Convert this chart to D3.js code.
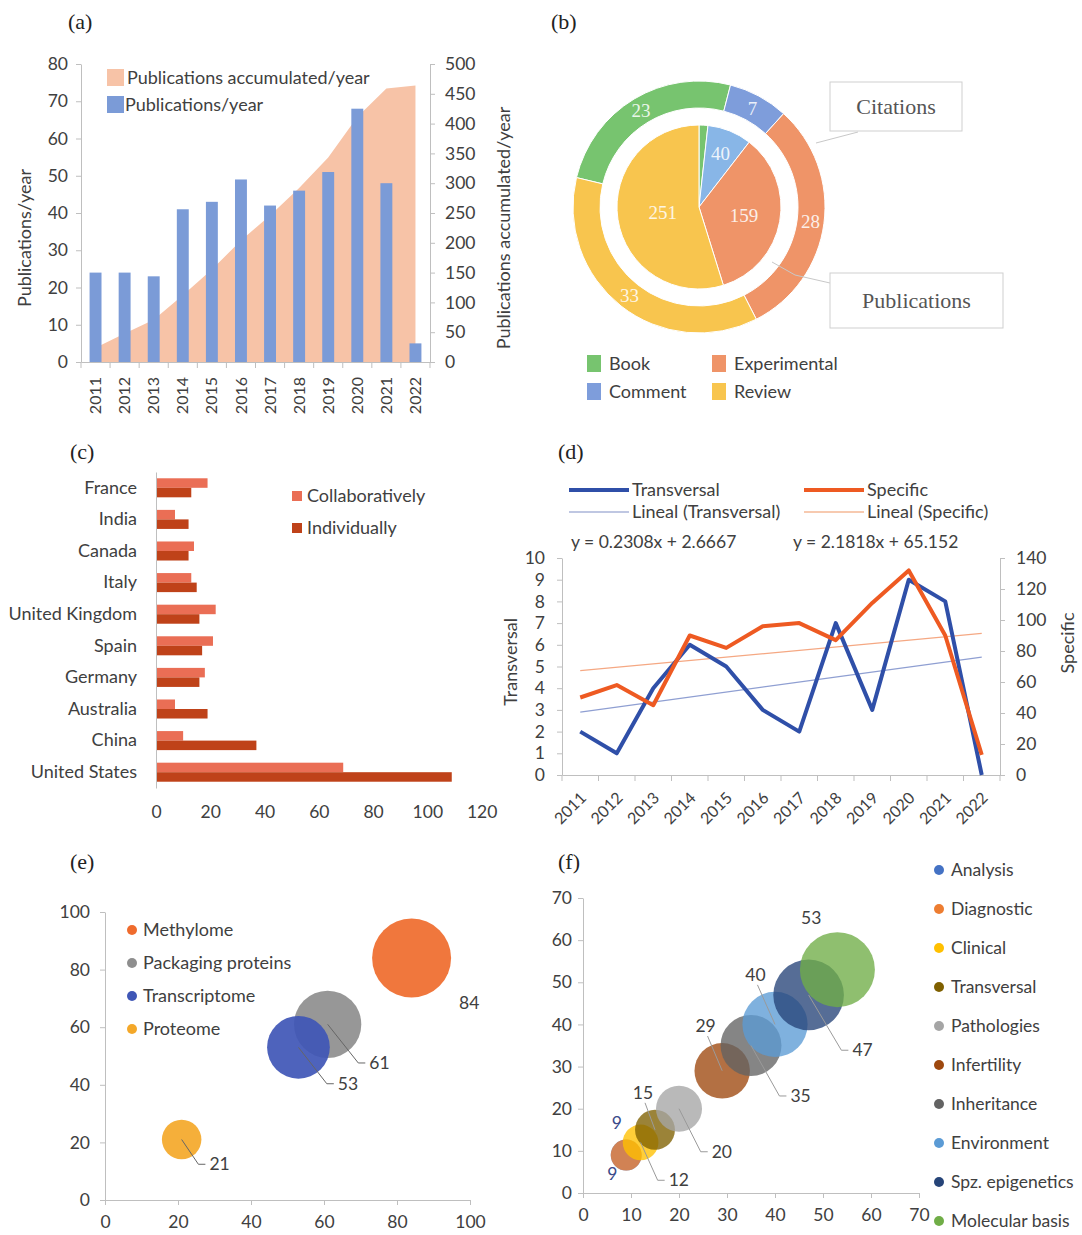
<!DOCTYPE html>
<html>
<head>
<meta charset="utf-8">
<script src="https://cdn.jsdelivr.net/npm/d3@7"></script>
<style>
  body { margin: 0; background: #fff; }
</style>
</head>
<body>
<script>
// ---------- data ----------
// (a) publications per year
const years = ['2011', '2012', '2013', '2014', '2015', '2016', '2017', '2018', '2019', '2020', '2021', '2022'];
const pubsPerYear = [24, 24, 23, 41, 43, 49, 42, 46, 51, 68, 48, 5];
const pubsAccumulated = [24, 48, 71, 112, 155, 204, 246, 292, 343, 411, 459, 464];
const ticksPubs = [0, 10, 20, 30, 40, 50, 60, 70, 80];
const ticksAccum = [0, 50, 100, 150, 200, 250, 300, 350, 400, 450, 500];

// (b) document types
const docTypes = ['Book', 'Comment', 'Experimental', 'Review'];
const publications = [8, 40, 159, 251];
const citations = [23, 7, 28, 33];

// (c) countries
const countries = ['France', 'India', 'Canada', 'Italy', 'United Kingdom', 'Spain', 'Germany', 'Australia', 'China', 'United States'];
const collaboratively = [19, 7, 14, 13, 22, 21, 18, 7, 10, 69];
const individually = [13, 12, 12, 15, 16, 17, 16, 19, 37, 109];
const ticksCountries = [0, 20, 40, 60, 80, 100, 120];

// (d) transversal vs specific
const transversal = [2, 1, 4, 6, 5, 3, 2, 7, 3, 9, 8, 0];
const specific = [50, 58, 45, 90, 82, 96, 98, 87, 111, 132, 90, 13];
const trendTransversal = [0.2308, 2.6667];
const trendSpecific = [2.1818, 65.152];
const ticksTransversal = [0, 1, 2, 3, 4, 5, 6, 7, 8, 9, 10];
const ticksSpecific = [0, 20, 40, 60, 80, 100, 120, 140];

// (e) omics
const omics = ['Methylome', 'Packaging proteins', 'Transcriptome', 'Proteome'];
const omicsValues = [84, 61, 53, 21];
const ticksOmics = [0, 20, 40, 60, 80, 100];

// (f) topics
const topics = ['Analysis', 'Diagnostic', 'Clinical', 'Transversal', 'Pathologies', 'Infertility', 'Inheritance', 'Environment', 'Spz. epigenetics', 'Molecular basis'];
const topicValues = [9, 9, 12, 15, 20, 29, 35, 40, 47, 53];
const ticksTopics = [0, 10, 20, 30, 40, 50, 60, 70];

// ---------- setup ----------
const sans = 'Lato, "Open Sans", sans-serif';
const serif = '"Liberation Serif", "DejaVu Serif", serif';
const axisColor = '#bfbfbf';
const textColor = '#404040';
const tickFont = 17.5;
const legendFont = 18;

const svg = d3.select('body').append('svg')
    .attr('width', 1082)
    .attr('height', 1235)
    .style('background', '#fff');

function styleAxis(g, size) {
    g.attr('font-family', sans).attr('font-size', size);
    g.select('.domain').attr('stroke', axisColor);
    g.selectAll('.tick line').attr('stroke', axisColor);
    g.selectAll('.tick text').attr('fill', textColor);
}

function addText(g, x, y, text, size, opts = {}) {
    return g.append('text')
        .attr('x', x).attr('y', y).attr('dy', '0.35em')
        .attr('text-anchor', opts.anchor || 'start')
        .attr('font-family', opts.font || sans)
        .attr('font-size', size)
        .attr('fill', opts.fill || textColor)
        .text(text);
}

function axisTitle(g, x, y, text) {
    g.append('text')
        .attr('transform', `translate(${x},${y}) rotate(-90)`)
        .attr('text-anchor', 'middle').attr('dy', '0.35em')
        .attr('font-family', sans).attr('font-size', 18).attr('fill', textColor)
        .text(text);
}

function panelLabel(text, x, y) {
    svg.append('text')
        .attr('x', x).attr('y', y)
        .attr('font-family', serif)
        .attr('font-size', 22)
        .attr('fill', '#222')
        .text(text);
}

// boundary ticks under a band axis
function bandTicks(g, scale, n) {
    g.selectAll('.bnd')
        .data(d3.range(n + 1))
        .join('line')
        .attr('x1', i => scale.range()[0] + i * scale.step())
        .attr('x2', i => scale.range()[0] + i * scale.step())
        .attr('y1', 0).attr('y2', 6)
        .attr('stroke', axisColor);
}

// ---------- (a) ----------
panelLabel('(a)', 68, 29);
const A = { left: 81, right: 430, top: 64, bottom: 362 };
const xA = d3.scaleBand().domain(years).range([A.left, A.right]);
const yA = d3.scaleLinear().domain([0, 80]).range([A.bottom, A.top]);
const yA2 = d3.scaleLinear().domain([0, 500]).range([A.bottom, A.top]);
const gA = svg.append('g');

const areaA = d3.area()
    .x((d, i) => xA(years[i]) + xA.bandwidth() / 2)
    .y0(A.bottom)
    .y1(d => yA2(d));

gA.append('path')
    .datum(pubsAccumulated)
    .attr('d', areaA)
    .attr('fill', '#f7c3a7');

const barWA = xA.bandwidth() * 0.41;
gA.selectAll('.barA')
    .data(pubsPerYear)
    .join('rect')
    .attr('class', 'barA')
    .attr('x', (d, i) => xA(years[i]) + (xA.bandwidth() - barWA) / 2)
    .attr('y', d => yA(d))
    .attr('width', barWA)
    .attr('height', d => A.bottom - yA(d))
    .attr('fill', '#7b9bd7');

gA.append('g')
    .attr('transform', `translate(${A.left},0)`)
    .call(d3.axisLeft(yA).tickValues(ticksPubs).tickSize(5).tickSizeOuter(0).tickPadding(8))
    .call(g => styleAxis(g, tickFont));

gA.append('g')
    .attr('transform', `translate(${A.right},0)`)
    .call(d3.axisRight(yA2).tickValues(ticksAccum).tickSize(5).tickSizeOuter(0).tickPadding(10))
    .call(g => styleAxis(g, tickFont));

const axA = gA.append('g')
    .attr('transform', `translate(0,${A.bottom})`)
    .call(d3.axisBottom(xA).tickSize(0).tickSizeOuter(0))
    .call(g => styleAxis(g, 16));
axA.selectAll('.tick text')
    .attr('transform', 'rotate(-90)')
    .attr('x', -15).attr('y', 0).attr('dy', '0.35em')
    .attr('text-anchor', 'end');
bandTicks(axA, xA, years.length);

axisTitle(gA, 25, 238, 'Publications/year');
axisTitle(gA, 504, 228, 'Publications accumulated/year');

[
    { label: 'Publications accumulated/year', color: '#f7c3a7', y: 69, tx: 127 },
    { label: 'Publications/year', color: '#7b9bd7', y: 96, tx: 125 }
].forEach(l => {
    gA.append('rect').attr('x', 107).attr('y', l.y).attr('width', 17).attr('height', 17).attr('fill', l.color);
    addText(gA, l.tx, l.y + 9, l.label, legendFont);
});

// ---------- (b) ----------
panelLabel('(b)', 551, 29);
const cxB = 699, cyB = 207;
const colorInner = ['#77c46f', '#88b6e7', '#ef9468', '#f8c54e'];
const colorOuter = ['#77c46f', '#7e9ddb', '#ef9468', '#f8c54e'];
const gB = svg.append('g').attr('transform', `translate(${cxB},${cyB})`);

const rPie = 82;
const pieInner = d3.pie().sort(null)(publications);
const startOuter = -76.5 * Math.PI / 180;
const pieOuter = d3.pie().sort(null).startAngle(startOuter).endAngle(startOuter + 2 * Math.PI)(citations);
const arcInner = d3.arc().innerRadius(0).outerRadius(rPie);
const arcOuter = d3.arc().innerRadius(99).outerRadius(126);

gB.selectAll('.inner')
    .data(pieInner)
    .join('path')
    .attr('class', 'inner')
    .attr('d', arcInner)
    .attr('fill', (d, i) => colorInner[i])
    .attr('stroke', '#fff').attr('stroke-width', 1);

gB.selectAll('.outer')
    .data(pieOuter)
    .join('path')
    .attr('class', 'outer')
    .attr('d', arcOuter)
    .attr('fill', (d, i) => colorOuter[i])
    .attr('stroke', '#fff').attr('stroke-width', 1);

// larger slices get their label closer to the centre
const totalPub = d3.sum(publications);
gB.selectAll('.innerLabel')
    .data(pieInner.filter(d => d.data > 20))
    .join('text')
    .attr('class', 'innerLabel')
    .attr('transform', d => {
        const a = (d.startAngle + d.endAngle) / 2;
        const r = rPie * (0.75 - 0.55 * d.data / totalPub);
        return `translate(${r * Math.sin(a)},${-r * Math.cos(a)})`;
    })
    .attr('text-anchor', 'middle').attr('dy', '0.35em')
    .attr('font-family', serif).attr('font-size', 19)
    .attr('fill', '#fff').attr('opacity', 0.85)
    .text(d => d.data);

gB.selectAll('.outerLabel')
    .data(pieOuter)
    .join('text')
    .attr('class', 'outerLabel')
    .attr('transform', d => `translate(${arcOuter.centroid(d)})`)
    .attr('text-anchor', 'middle').attr('dy', '0.35em')
    .attr('font-family', serif).attr('font-size', 19)
    .attr('fill', '#fff').attr('opacity', 0.85)
    .text(d => d.data);

// callouts
gB.append('polyline')
    .attr('points', [[117, -64], [159, -75]].join(' '))
    .attr('fill', 'none').attr('stroke', '#c8c8c8');
gB.append('polyline')
    .attr('points', [[73, 55], [96, 68], [131, 76]].join(' '))
    .attr('fill', 'none').attr('stroke', '#c8c8c8');
[
    { text: 'Citations', x: 830, y: 82, w: 132, h: 49 },
    { text: 'Publications', x: 830, y: 273, w: 173, h: 55 }
].forEach(c => {
    svg.append('rect').attr('x', c.x).attr('y', c.y).attr('width', c.w).attr('height', c.h)
        .attr('fill', '#fff').attr('stroke', '#cfcfcf');
    addText(svg, c.x + c.w / 2, c.y + c.h / 2, c.text, 22, { anchor: 'middle', font: serif, fill: '#555' });
});

// legend (b)
docTypes.forEach((t, i) => {
    const lx = i < 2 ? 587 : 712;
    const ly = 355 + (i % 2) * 28;
    svg.append('rect').attr('x', lx).attr('y', ly).attr('width', 14).attr('height', 17).attr('fill', colorOuter[i]);
    addText(svg, lx + 22, ly + 9, t, legendFont);
});

// ---------- (c) ----------
panelLabel('(c)', 70, 459);
const C = { left: 156, right: 481.6, top: 472, bottom: 788 };
const xC = d3.scaleLinear().domain([0, 120]).range([C.left, C.right]);
const yC = d3.scaleBand().domain(countries).range([C.top, C.bottom]);
const subC = d3.scaleBand().domain(['collab', 'indiv']).range([0, yC.bandwidth()]).paddingOuter(0.66);
const colorC = { collab: '#ea6e55', indiv: '#bf4219' };
const gC = svg.append('g');

const rowsC = countries.map((c, i) => ({ country: c, collab: collaboratively[i], indiv: individually[i] }));
['collab', 'indiv'].forEach(key => {
    gC.selectAll('.bar-' + key)
        .data(rowsC)
        .join('rect')
        .attr('class', 'bar-' + key)
        .attr('x', C.left)
        .attr('y', d => yC(d.country) + subC(key))
        .attr('width', d => xC(d[key]) - C.left)
        .attr('height', subC.bandwidth())
        .attr('fill', colorC[key]);
});

gC.append('g')
    .attr('transform', `translate(${C.left},0)`)
    .call(d3.axisLeft(yC).tickSize(0).tickSizeOuter(0).tickPadding(19))
    .call(g => styleAxis(g, legendFont));

gC.append('g')
    .attr('transform', `translate(0,${C.bottom})`)
    .call(d3.axisBottom(xC).tickValues(ticksCountries).tickSize(0).tickPadding(18))
    .call(g => styleAxis(g, tickFont))
    .call(g => g.select('.domain').remove());

[['Collaboratively', 'collab', 496], ['Individually', 'indiv', 528]].forEach(([label, key, y]) => {
    gC.append('rect').attr('x', 292).attr('y', y - 5).attr('width', 10).attr('height', 10).attr('fill', colorC[key]);
    addText(gC, 307, y, label, legendFont);
});

// ---------- (d) ----------
panelLabel('(d)', 558, 459);
const D = { left: 562, right: 1000, top: 558, bottom: 775 };
const xD = d3.scaleBand().domain(years).range([D.left, D.right]);
const yD = d3.scaleLinear().domain([0, 10]).range([D.bottom, D.top]);
const yD2 = d3.scaleLinear().domain([0, 140]).range([D.bottom, D.top]);
const gD = svg.append('g');
const cx = i => xD(years[i]) + xD.bandwidth() / 2;

gD.append('g')
    .attr('transform', `translate(${D.left},0)`)
    .call(d3.axisLeft(yD).tickValues(ticksTransversal).tickSize(5).tickSizeOuter(0).tickPadding(12))
    .call(g => styleAxis(g, tickFont));
gD.append('g')
    .attr('transform', `translate(${D.right},0)`)
    .call(d3.axisRight(yD2).tickValues(ticksSpecific).tickSize(5).tickSizeOuter(0).tickPadding(11))
    .call(g => styleAxis(g, tickFont));
const axD = gD.append('g')
    .attr('transform', `translate(0,${D.bottom})`)
    .call(d3.axisBottom(xD).tickSize(0).tickSizeOuter(0))
    .call(g => styleAxis(g, 16));
axD.selectAll('.tick text')
    .attr('transform', 'translate(3,20) rotate(-45)')
    .attr('x', 0).attr('y', 0).attr('dy', '0.35em')
    .attr('text-anchor', 'end');
bandTicks(axD, xD, years.length);

// trend lines
const trendLine = (coef, scale) => d3.line()
    .x(i => cx(i))
    .y(i => scale(coef[0] * (i + 1) + coef[1]));
gD.append('path')
    .datum([0, years.length - 1])
    .attr('d', trendLine(trendTransversal, yD))
    .attr('fill', 'none').attr('stroke', '#8f9fd2').attr('stroke-width', 1.3);
gD.append('path')
    .datum([0, years.length - 1])
    .attr('d', trendLine(trendSpecific, yD2))
    .attr('fill', 'none').attr('stroke', '#f5a883').attr('stroke-width', 1.3);

gD.append('path')
    .datum(transversal)
    .attr('d', d3.line().x((d, i) => cx(i)).y(d => yD(d)))
    .attr('fill', 'none').attr('stroke', '#2f4fa8').attr('stroke-width', 4)
    .attr('stroke-linejoin', 'round');
gD.append('path')
    .datum(specific)
    .attr('d', d3.line().x((d, i) => cx(i)).y(d => yD2(d)))
    .attr('fill', 'none').attr('stroke', '#ee5a22').attr('stroke-width', 4)
    .attr('stroke-linejoin', 'round');

axisTitle(gD, 511, 662, 'Transversal');
axisTitle(gD, 1068, 643, 'Specific');

[
    { label: 'Transversal', color: '#2f4fa8', w: 4, x: 569, y: 490 },
    { label: 'Specific', color: '#ee5a22', w: 4, x: 804, y: 490 },
    { label: 'Lineal (Transversal)', color: '#aab4d8', w: 1.3, x: 569, y: 512 },
    { label: 'Lineal (Specific)', color: '#f5b896', w: 1.3, x: 804, y: 512 }
].forEach(l => {
    gD.append('line').attr('x1', l.x).attr('x2', l.x + 60).attr('y1', l.y).attr('y2', l.y)
        .attr('stroke', l.color).attr('stroke-width', l.w);
    addText(gD, l.x + 63, l.y, l.label, legendFont);
});
[[trendTransversal, 571], [trendSpecific, 793]].forEach(([coef, x]) => {
    addText(gD, x, 542, `y = ${coef[0]}x + ${coef[1]}`, 17.5);
});

// ---------- bubble helper ----------
function bubbleAxes(g, P, xs, ys, ticks, padY) {
    g.append('g')
        .attr('transform', `translate(${P.left},0)`)
        .call(d3.axisLeft(ys).tickValues(ticks).tickSize(5).tickSizeOuter(0).tickPadding(padY))
        .call(a => styleAxis(a, tickFont));
    g.append('g')
        .attr('transform', `translate(0,${P.bottom})`)
        .call(d3.axisBottom(xs).tickValues(ticks).tickSize(5).tickSizeOuter(0).tickPadding(11))
        .call(a => styleAxis(a, tickFont));
}

// ---------- (e) ----------
panelLabel('(e)', 70, 869);
const E = { left: 105, right: 470, top: 912, bottom: 1200 };
const xE = d3.scaleLinear().domain([0, 100]).range([E.left, E.right]);
const yE = d3.scaleLinear().domain([0, 100]).range([E.bottom, E.top]);
const rE = d3.scaleSqrt().domain([0, d3.max(omicsValues)]).range([0, 39.5]);
const colorE = ['#ef6b2d', '#8e8e8e', '#3f56b6', '#f4a829'];
const leaderE = [false, true, true, true];
const gE = svg.append('g');
bubbleAxes(gE, E, xE, yE, ticksOmics, 10);

const nodesE = omics.map((o, i) => {
    const v = omicsValues[i];
    const x = xE(v), y = yE(v), r = rE(v);
    return { name: o, v, x, y, r, color: colorE[i], leader: leaderE[i], lx: x + r + 8, ly: y + r + 5 };
});
gE.selectAll('.bubble')
    .data(nodesE)
    .join('circle')
    .attr('class', 'bubble')
    .attr('cx', d => d.x).attr('cy', d => d.y).attr('r', d => d.r)
    .attr('fill', d => d.color).attr('fill-opacity', 0.92);
gE.selectAll('.leader')
    .data(nodesE.filter(d => d.leader))
    .join('polyline')
    .attr('class', 'leader')
    .attr('points', d => [[d.x, d.y], [d.lx - 11, d.ly], [d.lx - 4, d.ly]].join(' '))
    .attr('fill', 'none').attr('stroke', '#666').attr('stroke-width', 1);
gE.selectAll('.blabel')
    .data(nodesE)
    .join('text')
    .attr('class', 'blabel')
    .attr('x', d => d.lx).attr('y', d => d.ly).attr('dy', '0.35em')
    .attr('font-family', sans).attr('font-size', tickFont).attr('fill', textColor)
    .text(d => d.v);
omics.forEach((o, i) => {
    gE.append('circle').attr('cx', 132).attr('cy', 930 + i * 33).attr('r', 5).attr('fill', colorE[i]);
    addText(gE, 143, 930 + i * 33, o, legendFont);
});

// ---------- (f) ----------
panelLabel('(f)', 558, 869);
const F = { left: 583, right: 919, top: 898, bottom: 1193 };
const xF = d3.scaleLinear().domain([0, 70]).range([F.left, F.right]);
const yF = d3.scaleLinear().domain([0, 70]).range([F.bottom, F.top]);
const rF = d3.scaleSqrt().domain([0, d3.max(topicValues)]).range([0, 37.5]);
const colorF = ['#4472c4', '#ed7d31', '#ffc000', '#7f6000', '#a5a5a5', '#9e480e', '#636363', '#5b9bd5', '#264478', '#70ad47'];
// label side: bl = below left, al = above left, br = below right, a = above
const labelSideF = ['bl', 'al', 'br', 'al', 'br', 'al', 'br', 'al', 'br', 'a'];
const gF = svg.append('g');
bubbleAxes(gF, F, xF, yF, ticksTopics, 6);

const nodesF = topics.map((t, i) => {
    const v = topicValues[i];
    const x = xF(v), y = yF(v), r = rF(v);
    const side = labelSideF[i];
    let lx, ly, anchor = 'middle';
    if (side === 'bl') { lx = x - 0.9 * r; ly = y + r + 3; }
    else if (side === 'al') { lx = x - 0.6 * r; ly = y - r - 17; }
    else if (side === 'a') { lx = x - 0.7 * r; ly = y - r - 14; }
    else { lx = x + 0.9 * r + 12; ly = y + r + 20; anchor = 'start'; }
    return { name: t, v, x, y, r, side, lx, ly, anchor, color: colorF[i] };
});
gF.selectAll('.bubble')
    .data(nodesF)
    .join('circle')
    .attr('class', 'bubble')
    .attr('cx', d => d.x).attr('cy', d => d.y).attr('r', d => d.r)
    .attr('fill', d => d.color).attr('fill-opacity', 0.78);
gF.selectAll('.leader')
    .data(nodesF.filter(d => (d.side === 'al' && d.v > 10) || d.side === 'br'))
    .join('polyline')
    .attr('class', 'leader')
    .attr('points', d => d.side === 'al'
        ? [[d.lx + 2, d.ly + 10], [d.x, d.y]].join(' ')
        : [[d.x, d.y], [d.lx - 11, d.ly], [d.lx - 4, d.ly]].join(' '))
    .attr('fill', 'none').attr('stroke', '#9a9a9a').attr('stroke-width', 1);
gF.selectAll('.blabel')
    .data(nodesF)
    .join('text')
    .attr('class', 'blabel')
    .attr('x', d => d.lx).attr('y', d => d.ly).attr('dy', '0.35em')
    .attr('text-anchor', d => d.anchor)
    .attr('font-family', sans).attr('font-size', tickFont)
    .attr('fill', d => d.v < 10 ? '#3a4a8a' : textColor)
    .text(d => d.v);
topics.forEach((t, i) => {
    const ly = 870 + i * 39;
    gF.append('circle').attr('cx', 939).attr('cy', ly).attr('r', 5).attr('fill', colorF[i]);
    addText(gF, 951, ly, t, 17.5);
});
</script>
</body>
</html>
